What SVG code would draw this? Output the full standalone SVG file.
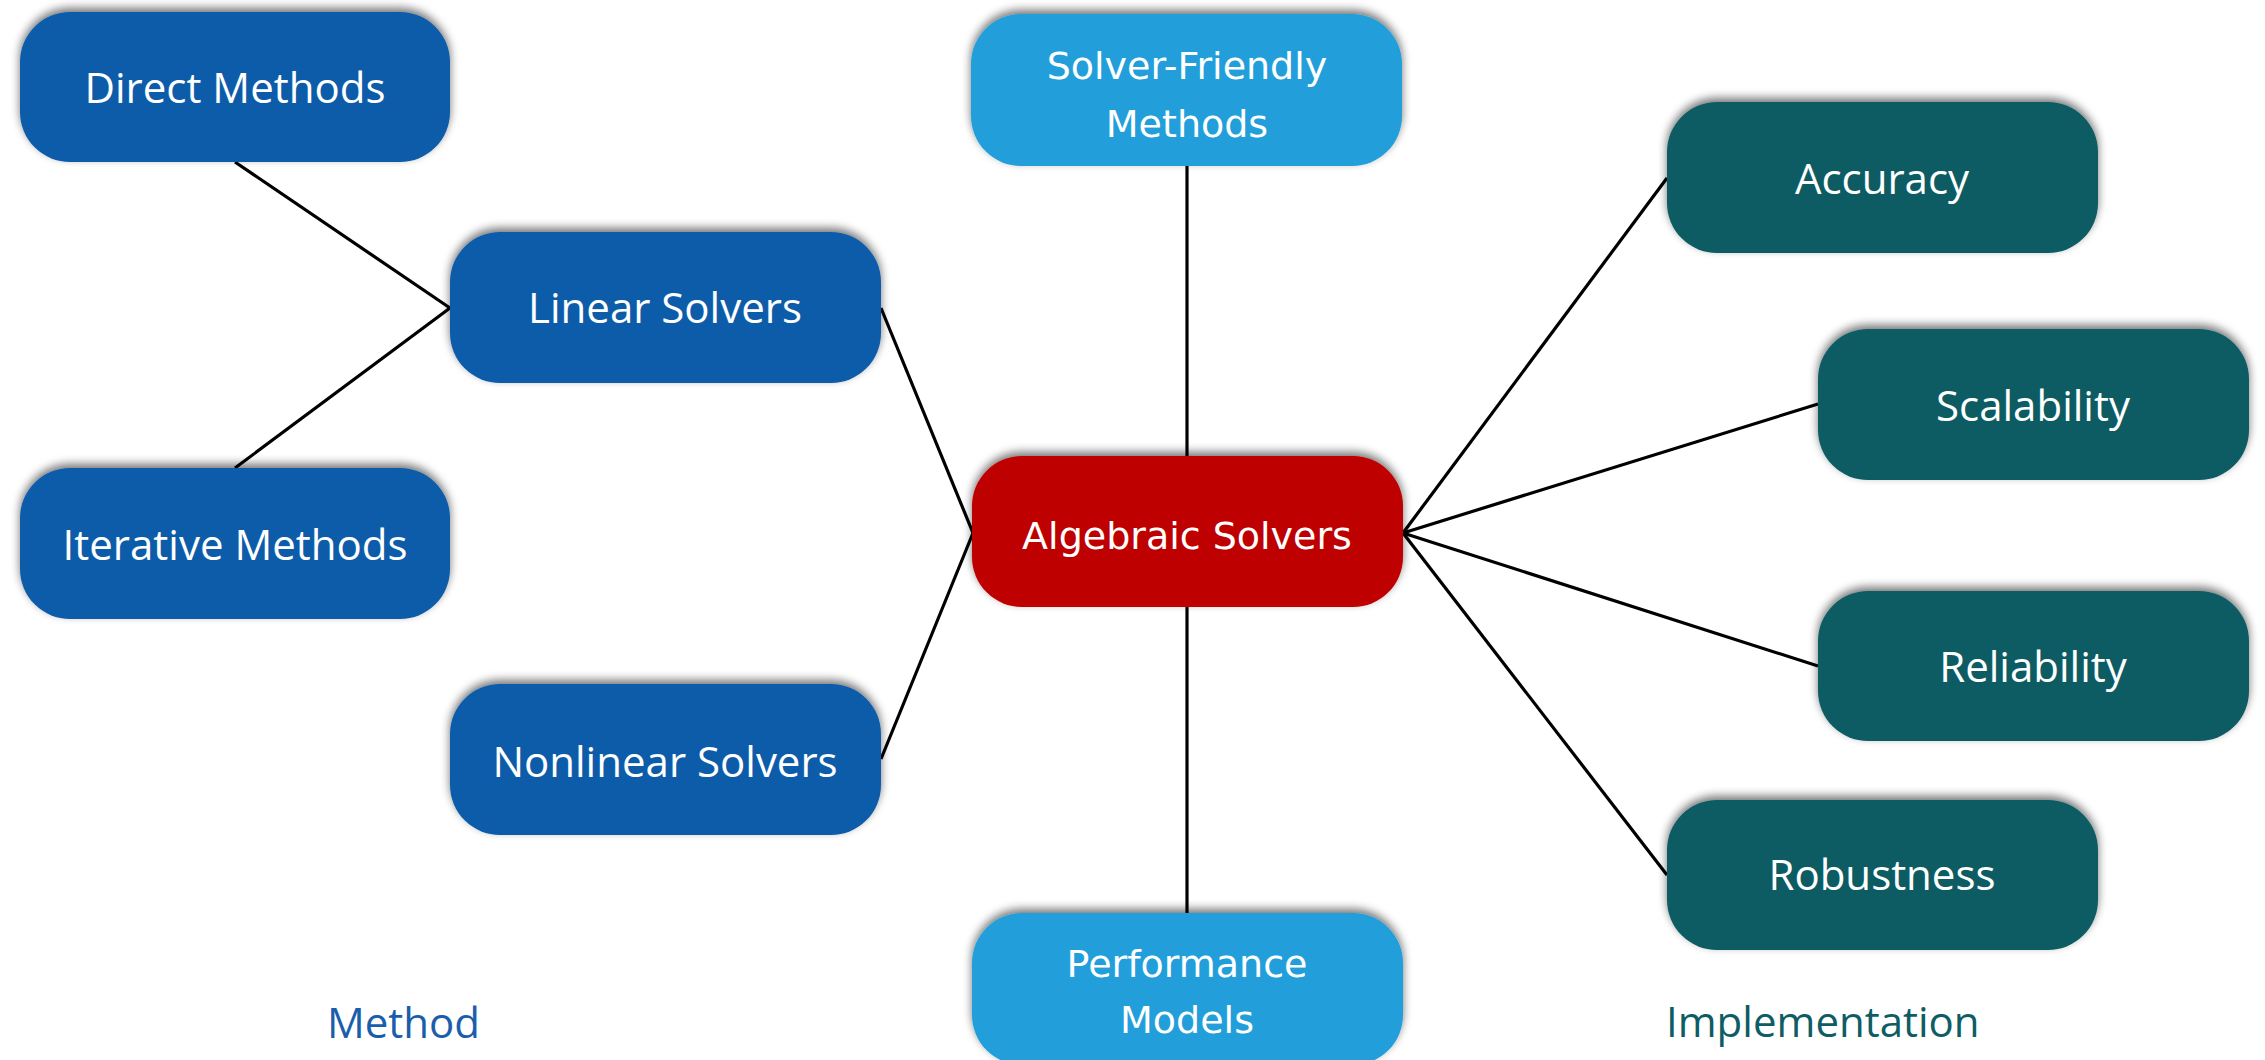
<svg xmlns="http://www.w3.org/2000/svg" width="2265" height="1060" viewBox="0 0 2265 1060">
<defs>
<filter id="sh" x="-10%" y="-20%" width="120%" height="140%">
<feGaussianBlur in="SourceAlpha" stdDeviation="5"/>
<feOffset dx="0" dy="-4" result="b"/>
<feComponentTransfer><feFuncA type="linear" slope="0.55"/></feComponentTransfer>
<feMerge><feMergeNode/><feMergeNode in="SourceGraphic"/></feMerge>
</filter>
</defs>
<style>
.box{filter:url(#sh)}
.blue{fill:#115CA9}
.lblue{fill:#239FDA}
.red{fill:#BE0000}
.teal{fill:#0E5C64}
.t{font-family:"Open Sans","Noto Sans",sans-serif;font-size:42px;fill:#fff;text-anchor:middle}
.c{font-family:"DejaVu Sans","Noto Sans",sans-serif;font-size:38px;fill:#fff;text-anchor:middle}
.con line{stroke:#000;stroke-width:3.2}
.cap{font-family:"Open Sans","Noto Sans",sans-serif;font-size:42px;text-anchor:start}
</style>
<rect width="2265" height="1060" fill="#fff"/>
<g class="con">
<line x1="235" y1="162" x2="450" y2="308"/>
<line x1="235" y1="468" x2="450" y2="308"/>
<line x1="881" y1="308" x2="973" y2="533"/>
<line x1="881" y1="759" x2="973" y2="533"/>
<line x1="1187" y1="166" x2="1187" y2="456"/>
<line x1="1187" y1="607" x2="1187" y2="913"/>
<line x1="1403" y1="533" x2="1667" y2="178"/>
<line x1="1403" y1="533" x2="1818" y2="404"/>
<line x1="1403" y1="533" x2="1818" y2="666"/>
<line x1="1403" y1="533" x2="1667" y2="875"/>
</g>
<g id="direct"><rect class="box blue" x="20" y="12" width="430" height="150" rx="50"/><text class="t" x="235" y="103">Direct Methods</text></g>
<g id="iterative"><rect class="box blue" x="20" y="468" width="430" height="151" rx="50"/><text class="t" x="235" y="560">Iterative Methods</text></g>
<g id="linear"><rect class="box blue" x="450" y="232" width="431" height="151" rx="50"/><text class="t" x="665" y="323">Linear Solvers</text></g>
<g id="nonlinear"><rect class="box blue" x="450" y="684" width="431" height="151" rx="50"/><text class="t" x="665" y="777">Nonlinear Solvers</text></g>
<g id="solverfriendly"><rect class="box lblue" x="971" y="14" width="431" height="152" rx="50"/><text class="c" x="1187" y="79">Solver-Friendly</text><text class="c" x="1187" y="137">Methods</text></g>
<g id="algebraic"><rect class="box red" x="972" y="456" width="431" height="151" rx="50"/><text class="c" x="1187" y="549">Algebraic Solvers</text></g>
<g id="performance"><rect class="box lblue" x="972" y="913" width="431" height="152" rx="50"/><text class="c" x="1187" y="977">Performance</text><text class="c" x="1187" y="1033">Models</text></g>
<g id="accuracy"><rect class="box teal" x="1667" y="102" width="431" height="151" rx="50"/><text class="t" x="1882" y="194">Accuracy</text></g>
<g id="scalability"><rect class="box teal" x="1818" y="329" width="431" height="151" rx="50"/><text class="t" x="2033" y="421">Scalability</text></g>
<g id="reliability"><rect class="box teal" x="1818" y="591" width="431" height="150" rx="50"/><text class="t" x="2033" y="682">Reliability</text></g>
<g id="robustness"><rect class="box teal" x="1667" y="800" width="431" height="150" rx="50"/><text class="t" x="1882" y="890">Robustness</text></g>
<text class="cap" x="327" y="1038" fill="#1A5EAB">Method</text>
<text class="cap" x="1666" y="1037" fill="#0E5C64">Implementation</text>
</svg>
